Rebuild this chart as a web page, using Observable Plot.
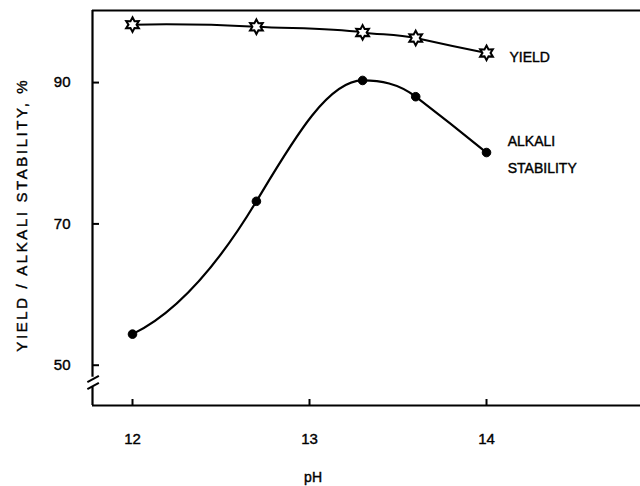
<!DOCTYPE html>
<html><head><meta charset="utf-8">
<script src="https://cdn.jsdelivr.net/npm/d3@7"></script>
<script src="https://cdn.jsdelivr.net/npm/@observablehq/plot@0.6"></script>
<style>body{margin:0;background:#fff} svg text{stroke:#000;stroke-width:0.4px}</style>
</head><body><div id="chart"></div>
<script>
const pH = [12, 12.7, 13.3, 13.6, 14];
const yieldPct = [98.2, 97.9, 97.1, 96.3, 94.2];
const alkaliStability = [54.4, 73.2, 90.3, 88.0, 80.1];
const xTicks = [12, 13, 14];
const yTicks = [50, 70, 90];
const seriesLabels = [
  {x: 14.13, y: 93.6, text: "YIELD"},
  {x: 14.12, y: 81.6, text: "ALKALI"},
  {x: 14.12, y: 77.9, text: "STABILITY"}
];
const xDom = [11.774, 14.87];
const yDom = [44.3, 100.2];
const breakMarks = [
  {x1: 11.745, y1: 47.6, x2: 11.81, y2: 48.5},
  {x1: 11.745, y1: 46.6, x2: 11.81, y2: 47.5}
];
const yieldData = pH.map((x, i) => ({x, y: yieldPct[i]}));
const alkData = pH.map((x, i) => ({x, y: alkaliStability[i]}));
const font = "'Liberation Sans', Arial, sans-serif";

// six-pointed star outline symbol
const hexagram = {
  draw(ctx, size) {
    const R = Math.sqrt(size) * 0.75, r = R * 0.55;
    for (let i = 0; i < 12; i++) {
      const a = -Math.PI / 2 + i * Math.PI / 6;
      const rr = i % 2 ? r : R;
      const px = rr * Math.cos(a), py = rr * Math.sin(a);
      if (i === 0) ctx.moveTo(px, py); else ctx.lineTo(px, py);
    }
    ctx.closePath();
  }
};
// inward tick symbols
const tickRight = {draw(ctx) { ctx.moveTo(0, 0); ctx.lineTo(6.5, 0); }};
const tickUp = {draw(ctx) { ctx.moveTo(0, 0); ctx.lineTo(0, -6.5); }};

// smooth Hermite curve (hand-drawn French-curve look)
function frenchCurve(context) {
  let xs, ys;
  return {
    areaStart() {}, areaEnd() {},
    lineStart() { xs = []; ys = []; },
    point(x, y) { xs.push(+x); ys.push(+y); },
    lineEnd() {
      const n = xs.length;
      if (!n) return;
      context.moveTo(xs[0], ys[0]);
      if (n === 1) return;
      if (n === 2) { context.lineTo(xs[1], ys[1]); return; }
      const h = [], s = [];
      for (let i = 0; i < n - 1; i++) { h[i] = xs[i + 1] - xs[i]; s[i] = (ys[i + 1] - ys[i]) / h[i]; }
      const t = new Array(n);
      for (let i = 1; i < n - 1; i++) {
        t[i] = s[i - 1] * s[i] <= 0 ? 0 : 1.5 * (s[i - 1] * h[i] + s[i] * h[i - 1]) / (h[i - 1] + h[i]);
      }
      t[0] = 2 * s[0] - t[1];
      t[n - 1] = 2 * s[n - 2] - t[n - 2];
      for (let i = 0; i < n - 1; i++) {
        const d = h[i] / 3;
        context.bezierCurveTo(xs[i] + d, ys[i] + d * t[i], xs[i + 1] - d, ys[i + 1] - d * t[i + 1], xs[i + 1], ys[i + 1]);
      }
    }
  };
}

const chart = Plot.plot({
  width: 640, height: 486,
  marginLeft: 92, marginTop: 10, marginBottom: 81, marginRight: 0,
  x: {domain: xDom},
  y: {domain: yDom},
  style: {fontFamily: font, background: "#fff", color: "#000"},
  marks: [
    // frame
    Plot.ruleY([yDom[1]], {x1: xDom[0], x2: xDom[1], strokeWidth: 2.2}),
    Plot.ruleY([yDom[0]], {x1: xDom[0], x2: xDom[1], strokeWidth: 2.2}),
    Plot.ruleX([xDom[0]], {y1: 48.3, y2: yDom[1], strokeWidth: 2.2}),
    Plot.ruleX([xDom[0]], {y1: yDom[0], y2: 46.9, strokeWidth: 2.2}),
    Plot.link(breakMarks, {x1: "x1", y1: "y1", x2: "x2", y2: "y2", strokeWidth: 2, clip: false}),
    // inward ticks
    Plot.dot(yTicks, {x: () => xDom[0], y: d => d, symbol: tickRight, fill: "none", stroke: "#000", strokeWidth: 2}),
    Plot.dot(xTicks, {x: d => d, y: () => yDom[0], symbol: tickUp, fill: "none", stroke: "#000", strokeWidth: 2}),
    Plot.axisY({ticks: yTicks, tickSize: 0, tickPadding: 22, fontSize: 15, label: null}),
    Plot.axisX({ticks: xTicks, tickSize: 0, tickPadding: 28, fontSize: 15, label: null, tickFormat: d3.format("d")}),
    Plot.text(["pH"], {x: 13.02, y: yDom[0], dy: 76, text: d => d, fontSize: 14, frameAnchor: "bottom"}),
    Plot.text(["YIELD / ALKALI STABILITY, %"], {
      x: xDom[0], y: 71.3, dx: -70, rotate: -90, text: d => d, fontSize: 15,
      textAnchor: "middle"
    }),
    // curves
    Plot.line(yieldData, {x: "x", y: "y", curve: frenchCurve, strokeWidth: 2}),
    Plot.line(alkData, {x: "x", y: "y", curve: frenchCurve, strokeWidth: 2.2}),
    Plot.dot(yieldData, {x: "x", y: "y", symbol: hexagram, r: 5.5, fill: "#fff", stroke: "#000", strokeWidth: 2}),
    Plot.dot(alkData, {x: "x", y: "y", symbol: "circle", r: 4.3, fill: "#000", stroke: "#000", strokeWidth: 1}),
    Plot.text(seriesLabels, {x: "x", y: "y", text: "text", textAnchor: "start", fontSize: 14})
  ]
});
chart.querySelectorAll("text").forEach(t => { if (t.textContent.includes("STABILITY, %")) t.style.letterSpacing = "2.6px"; });
document.getElementById("chart").append(chart);
</script></body></html>
